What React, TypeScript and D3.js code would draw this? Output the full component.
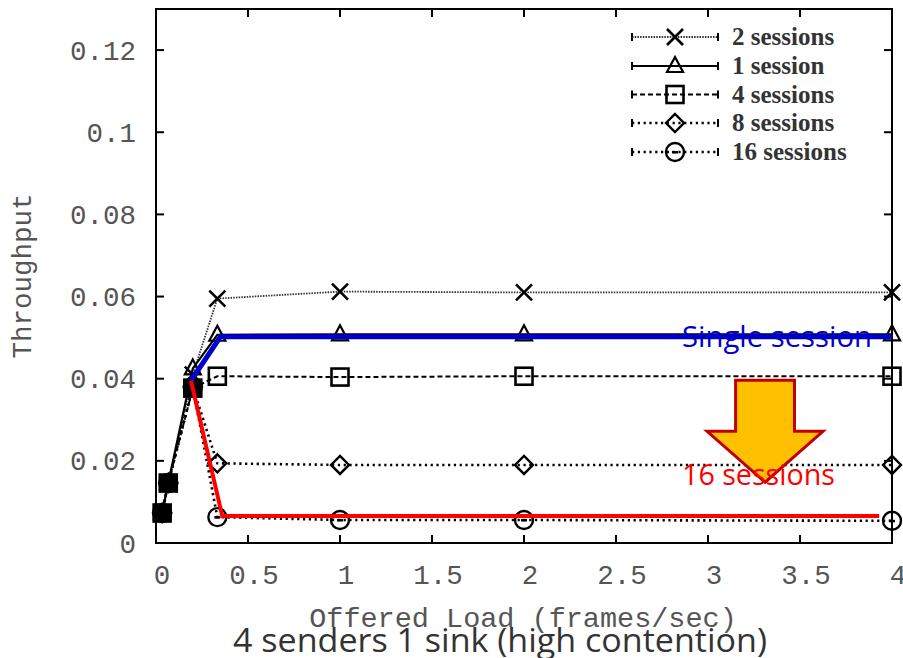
import React, { useEffect, useRef } from "react";
import * as d3 from "d3";

// offered load (frames/sec) at which each run was measured
const offeredLoad = [1 / 30, 1 / 15, 0.2, 1 / 3, 1, 2, 4];

const twoSessions = [0.0073, 0.0146, 0.041, 0.0595, 0.0612, 0.061, 0.061];
const oneSession = [0.0073, 0.0146, 0.0425, 0.0507, 0.0508, 0.0508, 0.0508];
const fourSessions = [0.0073, 0.0146, 0.0377, 0.0406, 0.0404, 0.0406, 0.0406];
const eightSessions = [0.0073, 0.0146, 0.038, 0.0194, 0.019, 0.019, 0.019];
const sixteenSessions = [0.0073, 0.0146, 0.038, 0.0063, 0.0056, 0.0056, 0.0054];

const seriesNames = ["2 sessions", "1 session", "4 sessions", "8 sessions", "16 sessions"];

// hand drawn highlight lines on top of the plot
const singleSessionX = [0.19, 0.35, 4];
const singleSessionY = [0.0395, 0.0502, 0.0502];
const sixteenHighlightX = [0.19, 0.36, 3.93];
const sixteenHighlightY = [0.0395, 0.0066, 0.0066];

const yTicks = [0, 0.02, 0.04, 0.06, 0.08, 0.1, 0.12];
const yTickLabels = ["0", "0.02", "0.04", "0.06", "0.08", "0.1", "0.12"];
const xTicks = [0, 0.5, 1, 1.5, 2, 2.5, 3, 3.5, 4];
const xTickLabels = ["0", "0.5", "1", "1.5", "2", "2.5", "3", "3.5", "4"];

// arrow in data units: centre x, top, shoulder, tip, half widths
const arrowX = 3.31;
const arrowTop = 0.0396;
const arrowShoulder = 0.0272;
const arrowTip = 0.0148;
const arrowShaftHalf = 0.16;
const arrowHeadHalf = 0.315;

const mono = "'Liberation Mono', 'DejaVu Sans Mono', monospace";
const monoColor = "#555";

export default function App() {
  const ref = useRef<SVGSVGElement>(null);

  useEffect(() => {
    const svg = d3.select(ref.current);
    svg.selectAll("*").remove();

    const W = 903, H = 658;
    const left = 156, right = 892, top = 9, bottom = 543;

    const x = d3.scaleLinear().domain([0, 4]).range([left, right]);
    const y = d3.scaleLinear().domain([0, 0.13]).range([bottom, top]);

    svg.attr("width", W).attr("height", H);
    svg.append("rect").attr("width", W).attr("height", H).attr("fill", "#fff");

    const styles = [
      { name: seriesNames[0], values: twoSessions, marker: "cross", dash: "1.5,1.2", width: 1.8, color: "#333" },
      { name: seriesNames[1], values: oneSession, marker: "triangle", dash: null, width: 2.2, color: "#000" },
      { name: seriesNames[2], values: fourSessions, marker: "square", dash: "5,3", width: 2, color: "#000" },
      { name: seriesNames[3], values: eightSessions, marker: "diamond", dash: "2.2,3.6", width: 2.6, color: "#000" },
      { name: seriesNames[4], values: sixteenSessions, marker: "circle", dash: "2.2,3.6", width: 2.6, color: "#000" },
    ];

    const drawMarker = (g: any, type: string, cx: number, cy: number, filled = false) => {
      const m = g.append("g").attr("transform", `translate(${cx},${cy})`)
        .attr("stroke", "#000").attr("fill", "none");
      if (type === "cross") {
        m.append("path").attr("d", "M-8,-8L8,8M-8,8L8,-8").attr("stroke-width", 2.6);
      } else if (type === "triangle") {
        m.append("path").attr("d", "M0,-9L8,6L-8,6Z").attr("stroke-width", 2.2);
      } else if (type === "square") {
        m.append("rect").attr("x", -8.5).attr("y", -8.5).attr("width", 17).attr("height", 17)
          .attr("stroke-width", 2.6).attr("fill", filled ? "#000" : "none");
      } else if (type === "diamond") {
        m.append("path").attr("d", "M0,-9L9,0L0,9L-9,0Z").attr("stroke-width", 2.4);
      } else {
        m.append("circle").attr("r", 9).attr("stroke-width", 2.4);
        m.append("rect").attr("x", -3).attr("y", -1).attr("width", 6).attr("height", 2.5).attr("fill", "#000").attr("stroke", "none");
      }
    };

    // ticks, mirrored on all sides
    const tickLen = 8;
    const axes = svg.append("g").attr("stroke", "#000").attr("stroke-width", 2);
    yTicks.forEach(t => {
      axes.append("line").attr("x1", left).attr("x2", left + tickLen).attr("y1", y(t)).attr("y2", y(t));
      axes.append("line").attr("x1", right).attr("x2", right - tickLen).attr("y1", y(t)).attr("y2", y(t));
    });
    xTicks.forEach(t => {
      axes.append("line").attr("x1", x(t)).attr("x2", x(t)).attr("y1", bottom).attr("y2", bottom - tickLen);
      axes.append("line").attr("x1", x(t)).attr("x2", x(t)).attr("y1", top).attr("y2", top + tickLen);
    });

    svg.append("g").selectAll("text").data(yTicks).enter().append("text")
      .attr("x", left - 20).attr("y", d => y(d)).attr("dy", "0.35em")
      .attr("text-anchor", "end").attr("font-family", mono).attr("font-size", 27.5).attr("fill", monoColor)
      .text((d, i) => yTickLabels[i]);

    svg.append("g").selectAll("text").data(xTicks).enter().append("text")
      .attr("x", d => x(d) + 6).attr("y", 584)
      .attr("text-anchor", "middle").attr("font-family", mono).attr("font-size", 27.5).attr("fill", monoColor)
      .text((d, i) => xTickLabels[i]);

    svg.append("text").attr("transform", `translate(31,276) rotate(-90)`)
      .attr("text-anchor", "middle").attr("font-family", mono).attr("font-size", 27.5).attr("fill", monoColor)
      .text("Throughput");

    svg.append("text").attr("x", 523).attr("y", 627)
      .attr("text-anchor", "middle").attr("font-family", mono).attr("font-size", 28.5).attr("fill", monoColor)
      .text("Offered Load (frames/sec)");

    // data lines
    const line = d3.line<number>().x((d, i) => x(offeredLoad[i])).y(d => y(d));
    styles.forEach(s => {
      svg.append("path").attr("d", line(s.values)!).attr("fill", "none")
        .attr("stroke", s.color).attr("stroke-width", s.width)
        .attr("stroke-dasharray", s.dash ?? null);
    });
    styles.forEach(s => {
      s.values.forEach((v, i) => {
        drawMarker(svg, s.marker, x(offeredLoad[i]), y(v), s.marker === "square" && offeredLoad[i] < 0.3);
      });
    });

    // frame
    svg.append("rect").attr("x", left).attr("y", top).attr("width", right - left).attr("height", bottom - top)
      .attr("fill", "none").attr("stroke", "#000").attr("stroke-width", 2);

    // legend
    const legend = svg.append("g");
    const rowY = [37, 66, 94.5, 123, 152];
    styles.forEach((s, i) => {
      const ly = rowY[i];
      legend.append("line").attr("x1", 632).attr("x2", 718).attr("y1", ly).attr("y2", ly)
        .attr("stroke", s.color).attr("stroke-width", s.width).attr("stroke-dasharray", s.dash ?? null);
      legend.append("line").attr("x1", 632).attr("x2", 632).attr("y1", ly - 4).attr("y2", ly + 4)
        .attr("stroke", "#000").attr("stroke-width", 2);
      legend.append("line").attr("x1", 718).attr("x2", 718).attr("y1", ly - 4).attr("y2", ly + 4)
        .attr("stroke", "#000").attr("stroke-width", 2);
      drawMarker(legend, s.marker, 675, ly);
      legend.append("text").attr("x", 732).attr("y", ly + 8)
        .attr("font-family", "'Liberation Serif', 'Times New Roman', serif").attr("font-weight", "bold")
        .attr("font-size", 25).attr("fill", "#333").text(s.name);
    });

    // highlight lines
    const hl = d3.line<number>().y(d => y(d));
    svg.append("path").attr("d", hl.x((d, i) => x(singleSessionX[i]))(singleSessionY)!)
      .attr("fill", "none").attr("stroke", "#0000cc").attr("stroke-width", 5);
    svg.append("path").attr("d", hl.x((d, i) => x(sixteenHighlightX[i]))(sixteenHighlightY)!)
      .attr("fill", "none").attr("stroke", "#ff0000").attr("stroke-width", 4);

    svg.append("text").attr("x", 682).attr("y", 347)
      .attr("font-family", "'Open Sans', 'DejaVu Sans', sans-serif").attr("font-size", 29)
      .attr("textLength", 190).attr("lengthAdjust", "spacingAndGlyphs")
      .attr("fill", "#0000cc").text("Single session");

    // arrow
    const ax = x(arrowX);
    const sh = x(arrowX + arrowShaftHalf) - ax;
    const hh = x(arrowX + arrowHeadHalf) - ax;
    const arrow = [
      [ax - sh, y(arrowTop)], [ax + sh, y(arrowTop)], [ax + sh, y(arrowShoulder)],
      [ax + hh, y(arrowShoulder)], [ax, y(arrowTip)], [ax - hh, y(arrowShoulder)],
      [ax - sh, y(arrowShoulder)],
    ];
    svg.append("path").attr("d", "M" + arrow.map(p => p.join(",")).join("L") + "Z")
      .attr("fill", "#ffc000").attr("stroke", "#c00000").attr("stroke-width", 3);

    svg.append("text").attr("x", 682).attr("y", 485)
      .attr("font-family", "'Open Sans', 'DejaVu Sans', sans-serif").attr("font-size", 29)
      .attr("textLength", 153).attr("lengthAdjust", "spacingAndGlyphs")
      .attr("fill", "#ff0000").text("16 sessions");

    svg.append("text").attr("x", 500).attr("y", 652)
      .attr("text-anchor", "middle")
      .attr("font-family", "'Open Sans', 'DejaVu Sans', sans-serif").attr("font-size", 33)
      .attr("textLength", 534).attr("lengthAdjust", "spacingAndGlyphs")
      .attr("fill", "#333").text("4 senders 1 sink (high contention)");
  }, []);

  return <svg ref={ref} style={{ position: "absolute", left: 0, top: 0, display: "block" }} />;
}
